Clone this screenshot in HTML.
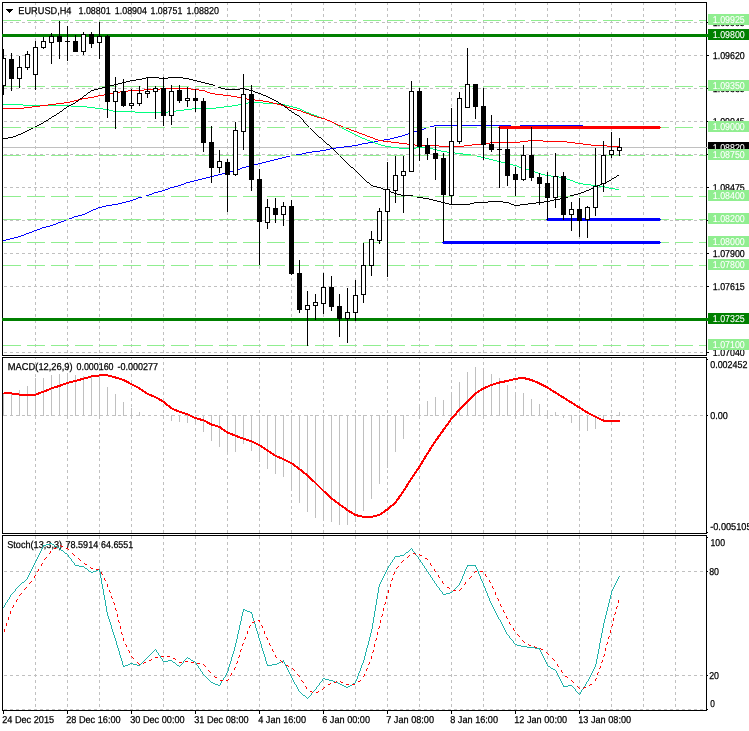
<!DOCTYPE html>
<html lang="en">
<head>
<meta charset="utf-8">
<title>EURUSD,H4</title>
<style>
html,body{margin:0;padding:0;background:#fff;}
body{width:749px;height:731px;overflow:hidden;font-family:"Liberation Sans",Arial,sans-serif;}
svg{display:block;}
</style>
</head>
<body>
<svg width="749" height="731" viewBox="0 0 749 731" shape-rendering="crispEdges" font-family="'Liberation Sans', Arial, sans-serif" font-size="10">
<rect x="0" y="0" width="749" height="731" fill="#fff"/>
<g id="grid">
<line x1="35.5" y1="2" x2="35.5" y2="710" stroke="#c0c0c0" stroke-dasharray="3 3"/>
<line x1="67.5" y1="2" x2="67.5" y2="710" stroke="#c0c0c0" stroke-dasharray="3 3"/>
<line x1="99.5" y1="2" x2="99.5" y2="710" stroke="#c0c0c0" stroke-dasharray="3 3"/>
<line x1="131.5" y1="2" x2="131.5" y2="710" stroke="#c0c0c0" stroke-dasharray="3 3"/>
<line x1="163.5" y1="2" x2="163.5" y2="710" stroke="#c0c0c0" stroke-dasharray="3 3"/>
<line x1="195.5" y1="2" x2="195.5" y2="710" stroke="#c0c0c0" stroke-dasharray="3 3"/>
<line x1="227.5" y1="2" x2="227.5" y2="710" stroke="#c0c0c0" stroke-dasharray="3 3"/>
<line x1="259.5" y1="2" x2="259.5" y2="710" stroke="#c0c0c0" stroke-dasharray="3 3"/>
<line x1="291.5" y1="2" x2="291.5" y2="710" stroke="#c0c0c0" stroke-dasharray="3 3"/>
<line x1="323.5" y1="2" x2="323.5" y2="710" stroke="#c0c0c0" stroke-dasharray="3 3"/>
<line x1="355.5" y1="2" x2="355.5" y2="710" stroke="#c0c0c0" stroke-dasharray="3 3"/>
<line x1="387.5" y1="2" x2="387.5" y2="710" stroke="#c0c0c0" stroke-dasharray="3 3"/>
<line x1="419.5" y1="2" x2="419.5" y2="710" stroke="#c0c0c0" stroke-dasharray="3 3"/>
<line x1="451.5" y1="2" x2="451.5" y2="710" stroke="#c0c0c0" stroke-dasharray="3 3"/>
<line x1="483.5" y1="2" x2="483.5" y2="710" stroke="#c0c0c0" stroke-dasharray="3 3"/>
<line x1="515.5" y1="2" x2="515.5" y2="710" stroke="#c0c0c0" stroke-dasharray="3 3"/>
<line x1="547.5" y1="2" x2="547.5" y2="710" stroke="#c0c0c0" stroke-dasharray="3 3"/>
<line x1="579.5" y1="2" x2="579.5" y2="710" stroke="#c0c0c0" stroke-dasharray="3 3"/>
<line x1="611.5" y1="2" x2="611.5" y2="710" stroke="#c0c0c0" stroke-dasharray="3 3"/>
<line x1="643.5" y1="2" x2="643.5" y2="710" stroke="#c0c0c0" stroke-dasharray="3 3"/>
<line x1="675.5" y1="2" x2="675.5" y2="710" stroke="#c0c0c0" stroke-dasharray="3 3"/>
<rect x="0" y="356" width="749" height="1" fill="#fff"/>
<rect x="0" y="534" width="749" height="1" fill="#fff"/>
<line x1="4" y1="22.5" x2="706" y2="22.5" stroke="#c0c0c0" stroke-dasharray="3 3"/>
<line x1="4" y1="55.5" x2="706" y2="55.5" stroke="#c0c0c0" stroke-dasharray="3 3"/>
<line x1="4" y1="88.5" x2="706" y2="88.5" stroke="#c0c0c0" stroke-dasharray="3 3"/>
<line x1="4" y1="121.5" x2="706" y2="121.5" stroke="#c0c0c0" stroke-dasharray="3 3"/>
<line x1="4" y1="154.5" x2="706" y2="154.5" stroke="#c0c0c0" stroke-dasharray="3 3"/>
<line x1="4" y1="187.5" x2="706" y2="187.5" stroke="#c0c0c0" stroke-dasharray="3 3"/>
<line x1="4" y1="220.5" x2="706" y2="220.5" stroke="#c0c0c0" stroke-dasharray="3 3"/>
<line x1="4" y1="253.5" x2="706" y2="253.5" stroke="#c0c0c0" stroke-dasharray="3 3"/>
<line x1="4" y1="286.5" x2="706" y2="286.5" stroke="#c0c0c0" stroke-dasharray="3 3"/>
<line x1="4" y1="319.5" x2="706" y2="319.5" stroke="#c0c0c0" stroke-dasharray="3 3"/>
<line x1="4" y1="352.5" x2="706" y2="352.5" stroke="#c0c0c0" stroke-dasharray="3 3"/>
<line x1="4" y1="415.5" x2="706" y2="415.5" stroke="#c0c0c0" stroke-dasharray="3 3"/>
<line x1="4" y1="571.5" x2="706" y2="571.5" stroke="#c0c0c0" stroke-dasharray="3 3"/>
<line x1="4" y1="675.5" x2="706" y2="675.5" stroke="#c0c0c0" stroke-dasharray="3 3"/>
<line x1="4" y1="709.5" x2="706" y2="709.5" stroke="#c0c0c0" stroke-dasharray="3 3"/>
</g>
<g id="titles" shape-rendering="auto" text-rendering="geometricPrecision">
<path d="M6 9h7l-3.5 4z" fill="#000" shape-rendering="crispEdges"/>
<text transform="translate(18.30,14) scale(0.9204,1)" font-size="10.0" fill="#000" stroke="#000" stroke-width="0.25">EURUSD,H4</text>
<text transform="translate(78.50,14) scale(0.8880,1)" font-size="10.0" fill="#000" stroke="#000" stroke-width="0.25">1.08801</text>
<text transform="translate(114.80,14) scale(0.8880,1)" font-size="10.0" fill="#000" stroke="#000" stroke-width="0.25">1.08904</text>
<text transform="translate(150.50,14) scale(0.8797,1)" font-size="10.0" fill="#000" stroke="#000" stroke-width="0.25">1.08751</text>
<text transform="translate(186.60,14) scale(0.8963,1)" font-size="10.0" fill="#000" stroke="#000" stroke-width="0.25">1.08820</text>
<text transform="translate(7.80,370) scale(0.9330,1)" font-size="10.0" fill="#000" stroke="#000" stroke-width="0.25">MACD(12,26,9)</text>
<text transform="translate(76.50,370) scale(0.8873,1)" font-size="10.0" fill="#000" stroke="#000" stroke-width="0.25">0.000160</text>
<text transform="translate(117.50,370) scale(0.9012,1)" font-size="10.0" fill="#000" stroke="#000" stroke-width="0.25">-0.000277</text>
<text transform="translate(7.20,548) scale(0.9142,1)" font-size="10.0" fill="#000" stroke="#000" stroke-width="0.25">Stoch(13,3,3)</text>
<text transform="translate(65.50,548) scale(0.9046,1)" font-size="10.0" fill="#000" stroke="#000" stroke-width="0.25">78.5914</text>
<text transform="translate(101.10,548) scale(0.8852,1)" font-size="10.0" fill="#000" stroke="#000" stroke-width="0.25">64.6551</text>
</g>
<g id="ma">
<rect x="3" y="147" width="703" height="1" fill="#c0c0c0"/>
<path d="M3 240.5h3M6 239.5h4M10 238.5h4M14 237.5h4M18 236.5h3M21 235.5h3M24 234.5h2M26 233.5h3M29 232.5h3M32 231.5h2M34 230.5h3M37 229.5h3M40 228.5h2M42 227.5h4M46 226.5h4M50 225.5h3M53 224.5h3M56 223.5h2M58 222.5h3M61 221.5h3M64 220.5h2M66 219.5h3M69 218.5h3M72 217.5h2M74 216.5h4M78 215.5h4M82 214.5h3M85 213.5h2M87 212.5h2M89 211.5h2M91 210.5h2M93 209.5h3M96 208.5h2M98 207.5h4M102 206.5h4M106 205.5h6M112 204.5h6M118 203.5h4M122 202.5h4M126 201.5h4M130 200.5h3M133 199.5h3M136 198.5h2M138 197.5h4M142 196.5h4M146 195.5h3M149 194.5h3M152 193.5h2M154 192.5h4M158 191.5h4M162 190.5h3M165 189.5h3M168 188.5h2M170 187.5h4M174 186.5h4M178 185.5h3M181 184.5h3M184 183.5h2M186 182.5h4M190 181.5h4M194 180.5h4M198 179.5h4M202 178.5h4M206 177.5h4M210 176.5h4M214 175.5h4M218 174.5h4M222 173.5h4M226 172.5h4M230 171.5h4M234 170.5h3M237 169.5h3M240 168.5h2M242 167.5h4M246 166.5h4M250 165.5h4M254 164.5h4M258 163.5h4M262 162.5h4M266 161.5h4M270 160.5h4M274 159.5h4M278 158.5h4M282 157.5h4M286 156.5h4M290 155.5h6M296 154.5h6M302 153.5h4M306 152.5h6M312 151.5h8M320 150.5h6M326 149.5h4M330 148.5h6M336 147.5h8M344 146.5h8M352 145.5h6M358 144.5h4M362 143.5h6M368 142.5h6M374 141.5h4M378 140.5h6M384 139.5h6M390 138.5h4M394 137.5h4M398 136.5h4M402 135.5h3M405 134.5h3M408 133.5h2M410 132.5h4M414 131.5h4M418 130.5h3M421 129.5h3M424 128.5h2M426 127.5h4M430 126.5h4M434 125.5h77M511 126.5h9M520 125.5h63M583 126.5h24M607 127.5h12" fill="none" stroke="#0000ff" stroke-width="1"/>
<path d="M3 104.5h20M23 105.5h48M71 106.5h16M87 107.5h8M95 108.5h8M103 109.5h6M109 110.5h4M113 111.5h22M135 112.5h33M168 111.5h8M176 110.5h8M184 109.5h8M192 108.5h24M216 107.5h8M224 106.5h8M232 105.5h6M238 104.5h4M242 103.5h6M248 102.5h15M263 103.5h16M279 104.5h6M285 105.5h4M289 106.5h4M293 107.5h4M297 108.5h3M300 109.5h2M302 110.5h2M304 111.5h2M306 112.5h3M309 113.5h2M311 114.5h3M314 115.5h3M317 116.5h2M319 117.5h3M322 118.5h3M325 119.5h2M327 120.5h3M330 121.5h2M332 122.5h2M334 123.5h1M335 124.5h2M337 125.5h2M339 126.5h1M340 127.5h2M342 128.5h2M344 129.5h2M346 130.5h2M348 131.5h2M350 132.5h2M352 133.5h2M354 134.5h2M356 135.5h2M358 136.5h2M360 137.5h2M362 138.5h3M365 139.5h2M367 140.5h3M370 141.5h3M373 142.5h2M375 143.5h3M378 144.5h3M381 145.5h4M385 146.5h6M391 147.5h8M399 148.5h17M416 147.5h13M429 148.5h4M433 149.5h4M437 150.5h4M441 151.5h6M447 152.5h8M455 153.5h8M463 154.5h8M471 155.5h6M477 156.5h4M481 157.5h4M485 158.5h4M489 159.5h4M493 160.5h4M497 161.5h4M501 162.5h4M505 163.5h4M509 164.5h4M513 165.5h4M517 166.5h2M519 167.5h3M522 168.5h3M525 169.5h4M529 170.5h4M533 171.5h2M535 172.5h3M538 173.5h3M541 174.5h4M545 175.5h6M551 176.5h8M559 177.5h6M565 178.5h2M567 179.5h3M570 180.5h3M573 181.5h2M575 182.5h3M578 183.5h5M583 184.5h8M591 185.5h8M599 186.5h6M605 187.5h4M609 188.5h6M615 189.5h4" fill="none" stroke="#00ff7f" stroke-width="1"/>
<path d="M3 108.5h21M24 107.5h8M32 106.5h8M40 105.5h8M48 104.5h8M56 103.5h8M64 102.5h6M70 101.5h4M74 100.5h4M78 99.5h4M82 98.5h6M88 97.5h6M94 96.5h4M98 95.5h6M104 94.5h6M110 93.5h4M114 92.5h6M120 91.5h8M128 90.5h16M144 89.5h16M160 88.5h31M191 89.5h8M199 90.5h6M205 91.5h2M207 92.5h3M210 93.5h5M215 94.5h8M223 95.5h8M231 96.5h6M237 97.5h4M241 98.5h6M247 99.5h8M255 100.5h8M263 101.5h6M269 102.5h4M273 103.5h4M277 104.5h4M281 105.5h4M285 106.5h2M287 107.5h3M290 108.5h3M293 109.5h4M297 110.5h4M301 111.5h2M303 112.5h3M306 113.5h3M309 114.5h2M311 115.5h3M314 116.5h3M317 117.5h4M321 118.5h4M325 119.5h2M327 120.5h3M330 121.5h2M332 122.5h2M334 123.5h2M336 124.5h2M338 125.5h3M341 126.5h2M343 127.5h3M346 128.5h3M349 129.5h2M351 130.5h3M354 131.5h3M357 132.5h2M359 133.5h3M362 134.5h3M365 135.5h2M367 136.5h3M370 137.5h3M373 138.5h2M375 139.5h3M378 140.5h5M383 141.5h8M391 142.5h8M399 143.5h8M407 144.5h8M415 145.5h24M439 146.5h25M464 145.5h8M472 144.5h14M486 143.5h4M490 142.5h30M520 141.5h8M528 140.5h15M543 141.5h24M567 142.5h8M575 143.5h8M583 144.5h8M591 145.5h16M607 146.5h12" fill="none" stroke="#ff0000" stroke-width="1"/>
<path d="M3 138.5h5M8 137.5h5M13 136.5h3M16 135.5h2M18 134.5h3M21 133.5h2M23 132.5h2M25 131.5h2M27 130.5h2M29 129.5h2M31 128.5h2M33 127.5h2M35 126.5h2M37 125.5h2M39 124.5h2M41 123.5h2M43 122.5h1M44 121.5h2M46 120.5h2M48 119.5h1M49 118.5h2M51 117.5h1M52 116.5h2M54 115.5h2M56 114.5h1M57 113.5h2M59 112.5h1M60 111.5h2M62 110.5h1M63 109.5h1M64 108.5h2M66 107.5h1M67 106.5h2M69 105.5h2M71 104.5h2M73 103.5h2M75 102.5h1M76 101.5h2M78 100.5h1M79 99.5h1M80 98.5h2M82 97.5h1M83 96.5h1M84 95.5h2M86 94.5h1M87 93.5h1M88 92.5h2M90 91.5h1M91 90.5h3M94 89.5h4M98 88.5h4M102 87.5h4M106 86.5h4M110 85.5h4M114 84.5h4M118 83.5h4M122 82.5h4M126 81.5h4M130 80.5h6M136 79.5h6M142 78.5h4M146 77.5h13M159 78.5h9M168 77.5h15M183 78.5h6M189 79.5h4M193 80.5h4M197 81.5h4M201 82.5h4M205 83.5h4M209 84.5h4M213 85.5h2M215 86.5h3M218 87.5h3M221 88.5h4M225 89.5h15M240 88.5h5M245 89.5h4M249 90.5h4M253 91.5h2M255 92.5h3M258 93.5h3M261 94.5h2M263 95.5h3M266 96.5h2M268 97.5h2M270 98.5h2M272 99.5h2M274 100.5h2M276 101.5h2M278 102.5h1M279 103.5h2M281 104.5h2M283 105.5h1M284 106.5h1M285 107.5h2M287 108.5h1M288 109.5h1M289 110.5h2M291 111.5h1M292 112.5h2M294 113.5h1M295 114.5h2M297 115.5h2M299 116.5h1M300 117.5h1M301 118.5h1M302 119.5h1M303.5 120v2M304 122.5h1M305 123.5h1M306 124.5h1M307 125.5h1M308 126.5h1M309 127.5h1M310 128.5h1M311 129.5h1M312 130.5h1M313 131.5h1M314 132.5h1M315 133.5h1M316 134.5h1M317 135.5h1M318 136.5h1M319 137.5h2M321 138.5h1M322 139.5h1M323 140.5h1M324 141.5h1M325 142.5h1M326 143.5h1M327 144.5h2M329 145.5h1M330 146.5h1M331 147.5h1M332 148.5h1M333 149.5h1M334 150.5h1M335 151.5h1M336 152.5h1M337 153.5h1M338 154.5h1M339 155.5h1M340 156.5h1M341 157.5h1M342 158.5h1M343 159.5h1M344 160.5h1M345 161.5h1M346 162.5h1M347 163.5h1M348 164.5h1M349 165.5h1M350 166.5h1M351 167.5h2M353 168.5h1M354 169.5h1M355 170.5h1M356 171.5h1M357 172.5h1M358 173.5h1M359 174.5h1M360 175.5h1M361 176.5h1M362 177.5h1M363 178.5h1M364 179.5h1M365 180.5h1M366 181.5h1M367 182.5h2M369 183.5h1M370 184.5h1M371 185.5h2M373 186.5h4M377 187.5h4M381 188.5h2M383 189.5h3M386 190.5h3M389 191.5h2M391 192.5h3M394 193.5h3M397 194.5h4M401 195.5h12M413 196.5h4M417 197.5h6M423 198.5h6M429 199.5h4M433 200.5h4M437 201.5h4M441 202.5h4M445 203.5h4M449 204.5h21M470 203.5h4M474 202.5h14M488 201.5h15M503 202.5h6M509 203.5h2M511 204.5h3M514 205.5h6M520 204.5h8M528 203.5h8M536 202.5h8M544 201.5h6M550 200.5h4M554 199.5h6M560 198.5h5M565 197.5h3M568 196.5h2M570 195.5h4M574 194.5h4M578 193.5h3M581 192.5h3M584 191.5h2M586 190.5h3M589 189.5h2M591 188.5h2M593 187.5h2M595 186.5h2M597 185.5h3M600 184.5h2M602 183.5h3M605 182.5h2M607 181.5h2M609 180.5h2M611 179.5h1M612 178.5h2M614 177.5h2M616 176.5h1M617 175.5h2" fill="none" stroke="#000000" stroke-width="1"/>
</g>
<g id="objects">
<rect x="3" y="20" width="703" height="1" fill="#fff"/>
<line x1="3" y1="20.5" x2="706" y2="20.5" stroke="#90ee90" stroke-dasharray="18 6"/>
<rect x="3" y="86" width="703" height="1" fill="#fff"/>
<line x1="3" y1="86.5" x2="706" y2="86.5" stroke="#90ee90" stroke-dasharray="18 6"/>
<rect x="3" y="127" width="703" height="1" fill="#fff"/>
<line x1="3" y1="127.5" x2="706" y2="127.5" stroke="#90ee90" stroke-dasharray="18 6"/>
<rect x="3" y="155" width="703" height="1" fill="#fff"/>
<line x1="3" y1="155.5" x2="706" y2="155.5" stroke="#90ee90" stroke-dasharray="18 6"/>
<rect x="3" y="196" width="703" height="1" fill="#fff"/>
<line x1="3" y1="196.5" x2="706" y2="196.5" stroke="#90ee90" stroke-dasharray="18 6"/>
<rect x="3" y="219" width="703" height="1" fill="#fff"/>
<line x1="3" y1="219.5" x2="706" y2="219.5" stroke="#90ee90" stroke-dasharray="18 6"/>
<rect x="3" y="242" width="703" height="1" fill="#fff"/>
<line x1="3" y1="242.5" x2="706" y2="242.5" stroke="#90ee90" stroke-dasharray="18 6"/>
<rect x="3" y="265" width="703" height="1" fill="#fff"/>
<line x1="3" y1="265.5" x2="706" y2="265.5" stroke="#90ee90" stroke-dasharray="18 6"/>
<rect x="3" y="345" width="703" height="1" fill="#fff"/>
<line x1="3" y1="345.5" x2="706" y2="345.5" stroke="#90ee90" stroke-dasharray="18 6"/>
<rect x="3" y="34" width="703" height="3" fill="#008000"/>
<rect x="3" y="318" width="703" height="3" fill="#008000"/>
<rect x="499" y="126" width="161" height="3" fill="#ff0000"/>
<rect x="498" y="127" width="163" height="1" fill="#ff0000"/>
<rect x="547" y="218" width="113" height="3" fill="#0000ff"/>
<rect x="546" y="219" width="115" height="1" fill="#0000ff"/>
<rect x="443" y="241" width="217" height="3" fill="#0000ff"/>
<rect x="442" y="242" width="219" height="1" fill="#0000ff"/>
</g>
<g id="candles">
<rect x="3" y="49" width="1" height="46" fill="#000"/>
<rect x="1" y="58" width="5" height="28" fill="#000"/>
<rect x="2" y="59" width="3" height="26" fill="#fff"/>
<rect x="11" y="53" width="1" height="38" fill="#000"/>
<rect x="9" y="59" width="5" height="20" fill="#000"/>
<rect x="19" y="56" width="1" height="32" fill="#000"/>
<rect x="17" y="67" width="5" height="12" fill="#000"/>
<rect x="18" y="68" width="3" height="10" fill="#fff"/>
<rect x="27" y="51" width="1" height="19" fill="#000"/>
<rect x="25" y="54" width="5" height="14" fill="#000"/>
<rect x="26" y="55" width="3" height="12" fill="#fff"/>
<rect x="35" y="41" width="1" height="49" fill="#000"/>
<rect x="33" y="47" width="5" height="28" fill="#000"/>
<rect x="34" y="48" width="3" height="26" fill="#fff"/>
<rect x="43" y="37" width="1" height="12" fill="#000"/>
<rect x="41" y="41" width="5" height="7" fill="#000"/>
<rect x="42" y="42" width="3" height="5" fill="#fff"/>
<rect x="51" y="33" width="1" height="31" fill="#000"/>
<rect x="49" y="36" width="5" height="7" fill="#000"/>
<rect x="50" y="37" width="3" height="5" fill="#fff"/>
<rect x="59" y="21" width="1" height="38" fill="#000"/>
<rect x="57" y="36" width="5" height="6" fill="#000"/>
<rect x="67" y="26" width="1" height="35" fill="#000"/>
<rect x="65" y="41" width="5" height="1" fill="#000"/>
<rect x="75" y="35" width="1" height="17" fill="#000"/>
<rect x="73" y="41" width="5" height="11" fill="#000"/>
<rect x="83" y="32" width="1" height="23" fill="#000"/>
<rect x="81" y="34" width="5" height="18" fill="#000"/>
<rect x="82" y="35" width="3" height="16" fill="#fff"/>
<rect x="91" y="32" width="1" height="16" fill="#000"/>
<rect x="89" y="34" width="5" height="10" fill="#000"/>
<rect x="99" y="22" width="1" height="37" fill="#000"/>
<rect x="97" y="36" width="5" height="7" fill="#000"/>
<rect x="98" y="37" width="3" height="5" fill="#fff"/>
<rect x="107" y="35" width="1" height="83" fill="#000"/>
<rect x="105" y="36" width="5" height="66" fill="#000"/>
<rect x="115" y="77" width="1" height="52" fill="#000"/>
<rect x="113" y="91" width="5" height="11" fill="#000"/>
<rect x="114" y="92" width="3" height="9" fill="#fff"/>
<rect x="123" y="79" width="1" height="28" fill="#000"/>
<rect x="121" y="91" width="5" height="15" fill="#000"/>
<rect x="131" y="89" width="1" height="20" fill="#000"/>
<rect x="129" y="103" width="5" height="3" fill="#000"/>
<rect x="130" y="104" width="3" height="1" fill="#fff"/>
<rect x="139" y="86" width="1" height="20" fill="#000"/>
<rect x="137" y="93" width="5" height="11" fill="#000"/>
<rect x="138" y="94" width="3" height="9" fill="#fff"/>
<rect x="147" y="77" width="1" height="21" fill="#000"/>
<rect x="145" y="91" width="5" height="3" fill="#000"/>
<rect x="146" y="92" width="3" height="1" fill="#fff"/>
<rect x="155" y="86" width="1" height="33" fill="#000"/>
<rect x="153" y="88" width="5" height="4" fill="#000"/>
<rect x="154" y="89" width="3" height="2" fill="#fff"/>
<rect x="163" y="77" width="1" height="49" fill="#000"/>
<rect x="161" y="88" width="5" height="28" fill="#000"/>
<rect x="171" y="85" width="1" height="40" fill="#000"/>
<rect x="169" y="91" width="5" height="25" fill="#000"/>
<rect x="170" y="92" width="3" height="23" fill="#fff"/>
<rect x="179" y="85" width="1" height="18" fill="#000"/>
<rect x="177" y="90" width="5" height="11" fill="#000"/>
<rect x="187" y="87" width="1" height="20" fill="#000"/>
<rect x="185" y="98" width="5" height="3" fill="#000"/>
<rect x="186" y="99" width="3" height="1" fill="#fff"/>
<rect x="195" y="89" width="1" height="23" fill="#000"/>
<rect x="193" y="98" width="5" height="3" fill="#000"/>
<rect x="203" y="98" width="1" height="54" fill="#000"/>
<rect x="201" y="101" width="5" height="42" fill="#000"/>
<rect x="211" y="126" width="1" height="57" fill="#000"/>
<rect x="209" y="142" width="5" height="26" fill="#000"/>
<rect x="219" y="150" width="1" height="23" fill="#000"/>
<rect x="217" y="161" width="5" height="7" fill="#000"/>
<rect x="218" y="162" width="3" height="5" fill="#fff"/>
<rect x="227" y="159" width="1" height="53" fill="#000"/>
<rect x="225" y="162" width="5" height="13" fill="#000"/>
<rect x="235" y="122" width="1" height="54" fill="#000"/>
<rect x="233" y="130" width="5" height="45" fill="#000"/>
<rect x="234" y="131" width="3" height="43" fill="#fff"/>
<rect x="243" y="74" width="1" height="76" fill="#000"/>
<rect x="241" y="94" width="5" height="38" fill="#000"/>
<rect x="242" y="95" width="3" height="36" fill="#fff"/>
<rect x="251" y="85" width="1" height="106" fill="#000"/>
<rect x="249" y="94" width="5" height="86" fill="#000"/>
<rect x="259" y="169" width="1" height="96" fill="#000"/>
<rect x="257" y="179" width="5" height="43" fill="#000"/>
<rect x="267" y="199" width="1" height="30" fill="#000"/>
<rect x="265" y="207" width="5" height="16" fill="#000"/>
<rect x="266" y="208" width="3" height="14" fill="#fff"/>
<rect x="275" y="198" width="1" height="25" fill="#000"/>
<rect x="273" y="208" width="5" height="7" fill="#000"/>
<rect x="283" y="202" width="1" height="24" fill="#000"/>
<rect x="281" y="206" width="5" height="9" fill="#000"/>
<rect x="282" y="207" width="3" height="7" fill="#fff"/>
<rect x="291" y="200" width="1" height="75" fill="#000"/>
<rect x="289" y="206" width="5" height="68" fill="#000"/>
<rect x="299" y="260" width="1" height="53" fill="#000"/>
<rect x="297" y="273" width="5" height="37" fill="#000"/>
<rect x="307" y="291" width="1" height="55" fill="#000"/>
<rect x="305" y="305" width="5" height="5" fill="#000"/>
<rect x="306" y="306" width="3" height="3" fill="#fff"/>
<rect x="315" y="294" width="1" height="26" fill="#000"/>
<rect x="313" y="302" width="5" height="4" fill="#000"/>
<rect x="314" y="303" width="3" height="2" fill="#fff"/>
<rect x="323" y="273" width="1" height="41" fill="#000"/>
<rect x="321" y="287" width="5" height="17" fill="#000"/>
<rect x="322" y="288" width="3" height="15" fill="#fff"/>
<rect x="331" y="276" width="1" height="35" fill="#000"/>
<rect x="329" y="287" width="5" height="20" fill="#000"/>
<rect x="339" y="294" width="1" height="43" fill="#000"/>
<rect x="337" y="306" width="5" height="13" fill="#000"/>
<rect x="347" y="288" width="1" height="55" fill="#000"/>
<rect x="345" y="312" width="5" height="7" fill="#000"/>
<rect x="346" y="313" width="3" height="5" fill="#fff"/>
<rect x="355" y="280" width="1" height="41" fill="#000"/>
<rect x="353" y="295" width="5" height="18" fill="#000"/>
<rect x="354" y="296" width="3" height="16" fill="#fff"/>
<rect x="363" y="243" width="1" height="60" fill="#000"/>
<rect x="361" y="265" width="5" height="30" fill="#000"/>
<rect x="362" y="266" width="3" height="28" fill="#fff"/>
<rect x="371" y="231" width="1" height="45" fill="#000"/>
<rect x="369" y="239" width="5" height="27" fill="#000"/>
<rect x="370" y="240" width="3" height="25" fill="#fff"/>
<rect x="379" y="208" width="1" height="36" fill="#000"/>
<rect x="377" y="211" width="5" height="30" fill="#000"/>
<rect x="378" y="212" width="3" height="28" fill="#fff"/>
<rect x="387" y="162" width="1" height="115" fill="#000"/>
<rect x="385" y="189" width="5" height="23" fill="#000"/>
<rect x="386" y="190" width="3" height="21" fill="#fff"/>
<rect x="395" y="156" width="1" height="47" fill="#000"/>
<rect x="393" y="175" width="5" height="16" fill="#000"/>
<rect x="394" y="176" width="3" height="14" fill="#fff"/>
<rect x="403" y="156" width="1" height="57" fill="#000"/>
<rect x="401" y="171" width="5" height="5" fill="#000"/>
<rect x="402" y="172" width="3" height="3" fill="#fff"/>
<rect x="411" y="81" width="1" height="91" fill="#000"/>
<rect x="409" y="91" width="5" height="81" fill="#000"/>
<rect x="410" y="92" width="3" height="79" fill="#fff"/>
<rect x="419" y="88" width="1" height="73" fill="#000"/>
<rect x="417" y="91" width="5" height="56" fill="#000"/>
<rect x="427" y="138" width="1" height="22" fill="#000"/>
<rect x="425" y="145" width="5" height="9" fill="#000"/>
<rect x="435" y="127" width="1" height="53" fill="#000"/>
<rect x="433" y="153" width="5" height="6" fill="#000"/>
<rect x="443" y="153" width="1" height="89" fill="#000"/>
<rect x="441" y="158" width="5" height="37" fill="#000"/>
<rect x="451" y="108" width="1" height="96" fill="#000"/>
<rect x="449" y="141" width="5" height="55" fill="#000"/>
<rect x="450" y="142" width="3" height="53" fill="#fff"/>
<rect x="459" y="92" width="1" height="52" fill="#000"/>
<rect x="457" y="98" width="5" height="44" fill="#000"/>
<rect x="458" y="99" width="3" height="42" fill="#fff"/>
<rect x="467" y="48" width="1" height="60" fill="#000"/>
<rect x="465" y="84" width="5" height="24" fill="#000"/>
<rect x="466" y="85" width="3" height="22" fill="#fff"/>
<rect x="475" y="84" width="1" height="35" fill="#000"/>
<rect x="473" y="84" width="5" height="23" fill="#000"/>
<rect x="483" y="88" width="1" height="72" fill="#000"/>
<rect x="481" y="106" width="5" height="39" fill="#000"/>
<rect x="491" y="115" width="1" height="37" fill="#000"/>
<rect x="489" y="144" width="5" height="6" fill="#000"/>
<rect x="499" y="127" width="1" height="61" fill="#000"/>
<rect x="497" y="149" width="5" height="1" fill="#000"/>
<rect x="507" y="129" width="1" height="57" fill="#000"/>
<rect x="505" y="149" width="5" height="27" fill="#000"/>
<rect x="515" y="167" width="1" height="29" fill="#000"/>
<rect x="513" y="174" width="5" height="6" fill="#000"/>
<rect x="523" y="145" width="1" height="36" fill="#000"/>
<rect x="521" y="155" width="5" height="25" fill="#000"/>
<rect x="522" y="156" width="3" height="23" fill="#fff"/>
<rect x="531" y="127" width="1" height="54" fill="#000"/>
<rect x="529" y="155" width="5" height="23" fill="#000"/>
<rect x="539" y="173" width="1" height="32" fill="#000"/>
<rect x="537" y="177" width="5" height="7" fill="#000"/>
<rect x="547" y="172" width="1" height="48" fill="#000"/>
<rect x="545" y="183" width="5" height="15" fill="#000"/>
<rect x="555" y="153" width="1" height="55" fill="#000"/>
<rect x="553" y="176" width="5" height="22" fill="#000"/>
<rect x="554" y="177" width="3" height="20" fill="#fff"/>
<rect x="563" y="172" width="1" height="48" fill="#000"/>
<rect x="561" y="176" width="5" height="39" fill="#000"/>
<rect x="571" y="202" width="1" height="29" fill="#000"/>
<rect x="569" y="209" width="5" height="6" fill="#000"/>
<rect x="570" y="210" width="3" height="4" fill="#fff"/>
<rect x="579" y="198" width="1" height="39" fill="#000"/>
<rect x="577" y="209" width="5" height="12" fill="#000"/>
<rect x="587" y="206" width="1" height="32" fill="#000"/>
<rect x="585" y="207" width="5" height="13" fill="#000"/>
<rect x="586" y="208" width="3" height="11" fill="#fff"/>
<rect x="595" y="148" width="1" height="68" fill="#000"/>
<rect x="593" y="186" width="5" height="22" fill="#000"/>
<rect x="594" y="187" width="3" height="20" fill="#fff"/>
<rect x="603" y="141" width="1" height="51" fill="#000"/>
<rect x="601" y="155" width="5" height="29" fill="#000"/>
<rect x="602" y="156" width="3" height="27" fill="#fff"/>
<rect x="611" y="132" width="1" height="26" fill="#000"/>
<rect x="609" y="150" width="5" height="5" fill="#000"/>
<rect x="610" y="151" width="3" height="3" fill="#fff"/>
<rect x="619" y="138" width="1" height="18" fill="#000"/>
<rect x="617" y="147" width="5" height="4" fill="#000"/>
<rect x="618" y="148" width="3" height="2" fill="#fff"/>
</g>
<g id="macd">
<rect x="3" y="393" width="1" height="23" fill="#c0c0c0"/>
<rect x="11" y="393" width="1" height="23" fill="#c0c0c0"/>
<rect x="19" y="390" width="1" height="26" fill="#c0c0c0"/>
<rect x="27" y="386" width="1" height="30" fill="#c0c0c0"/>
<rect x="35" y="378" width="1" height="38" fill="#c0c0c0"/>
<rect x="43" y="378" width="1" height="38" fill="#c0c0c0"/>
<rect x="51" y="375" width="1" height="41" fill="#c0c0c0"/>
<rect x="59" y="374" width="1" height="42" fill="#c0c0c0"/>
<rect x="67" y="373" width="1" height="43" fill="#c0c0c0"/>
<rect x="75" y="375" width="1" height="41" fill="#c0c0c0"/>
<rect x="83" y="376" width="1" height="40" fill="#c0c0c0"/>
<rect x="91" y="376" width="1" height="40" fill="#c0c0c0"/>
<rect x="99" y="377" width="1" height="39" fill="#c0c0c0"/>
<rect x="107" y="387" width="1" height="29" fill="#c0c0c0"/>
<rect x="115" y="394" width="1" height="22" fill="#c0c0c0"/>
<rect x="123" y="402" width="1" height="14" fill="#c0c0c0"/>
<rect x="131" y="408" width="1" height="8" fill="#c0c0c0"/>
<rect x="139" y="412" width="1" height="4" fill="#c0c0c0"/>
<rect x="163" y="415" width="1" height="2" fill="#c0c0c0"/>
<rect x="171" y="415" width="1" height="6" fill="#c0c0c0"/>
<rect x="179" y="415" width="1" height="7" fill="#c0c0c0"/>
<rect x="187" y="415" width="1" height="8" fill="#c0c0c0"/>
<rect x="195" y="415" width="1" height="10" fill="#c0c0c0"/>
<rect x="203" y="415" width="1" height="17" fill="#c0c0c0"/>
<rect x="211" y="415" width="1" height="26" fill="#c0c0c0"/>
<rect x="219" y="415" width="1" height="32" fill="#c0c0c0"/>
<rect x="227" y="415" width="1" height="40" fill="#c0c0c0"/>
<rect x="235" y="415" width="1" height="37" fill="#c0c0c0"/>
<rect x="243" y="415" width="1" height="29" fill="#c0c0c0"/>
<rect x="251" y="415" width="1" height="36" fill="#c0c0c0"/>
<rect x="259" y="415" width="1" height="47" fill="#c0c0c0"/>
<rect x="267" y="415" width="1" height="54" fill="#c0c0c0"/>
<rect x="275" y="415" width="1" height="59" fill="#c0c0c0"/>
<rect x="283" y="415" width="1" height="62" fill="#c0c0c0"/>
<rect x="291" y="415" width="1" height="75" fill="#c0c0c0"/>
<rect x="299" y="415" width="1" height="88" fill="#c0c0c0"/>
<rect x="307" y="415" width="1" height="97" fill="#c0c0c0"/>
<rect x="315" y="415" width="1" height="103" fill="#c0c0c0"/>
<rect x="323" y="415" width="1" height="105" fill="#c0c0c0"/>
<rect x="331" y="415" width="1" height="107" fill="#c0c0c0"/>
<rect x="339" y="415" width="1" height="110" fill="#c0c0c0"/>
<rect x="347" y="415" width="1" height="110" fill="#c0c0c0"/>
<rect x="355" y="415" width="1" height="107" fill="#c0c0c0"/>
<rect x="363" y="415" width="1" height="96" fill="#c0c0c0"/>
<rect x="371" y="415" width="1" height="84" fill="#c0c0c0"/>
<rect x="379" y="415" width="1" height="69" fill="#c0c0c0"/>
<rect x="387" y="415" width="1" height="53" fill="#c0c0c0"/>
<rect x="395" y="415" width="1" height="37" fill="#c0c0c0"/>
<rect x="403" y="415" width="1" height="24" fill="#c0c0c0"/>
<rect x="419" y="404" width="1" height="12" fill="#c0c0c0"/>
<rect x="427" y="401" width="1" height="15" fill="#c0c0c0"/>
<rect x="435" y="397" width="1" height="19" fill="#c0c0c0"/>
<rect x="443" y="400" width="1" height="16" fill="#c0c0c0"/>
<rect x="451" y="393" width="1" height="23" fill="#c0c0c0"/>
<rect x="459" y="382" width="1" height="34" fill="#c0c0c0"/>
<rect x="467" y="372" width="1" height="44" fill="#c0c0c0"/>
<rect x="475" y="367" width="1" height="49" fill="#c0c0c0"/>
<rect x="483" y="368" width="1" height="48" fill="#c0c0c0"/>
<rect x="491" y="374" width="1" height="42" fill="#c0c0c0"/>
<rect x="499" y="378" width="1" height="38" fill="#c0c0c0"/>
<rect x="507" y="385" width="1" height="31" fill="#c0c0c0"/>
<rect x="515" y="392" width="1" height="24" fill="#c0c0c0"/>
<rect x="523" y="393" width="1" height="23" fill="#c0c0c0"/>
<rect x="531" y="399" width="1" height="17" fill="#c0c0c0"/>
<rect x="539" y="404" width="1" height="12" fill="#c0c0c0"/>
<rect x="547" y="411" width="1" height="5" fill="#c0c0c0"/>
<rect x="555" y="412" width="1" height="4" fill="#c0c0c0"/>
<rect x="563" y="415" width="1" height="3" fill="#c0c0c0"/>
<rect x="571" y="415" width="1" height="8" fill="#c0c0c0"/>
<rect x="579" y="415" width="1" height="16" fill="#c0c0c0"/>
<rect x="587" y="415" width="1" height="16" fill="#c0c0c0"/>
<rect x="595" y="415" width="1" height="14" fill="#c0c0c0"/>
<rect x="603" y="415" width="1" height="6" fill="#c0c0c0"/>
<rect x="611" y="415" width="1" height="2" fill="#c0c0c0"/>
<rect x="619" y="412" width="1" height="4" fill="#c0c0c0"/>
<polyline points="3.5,393.1 11.5,393.4 19.5,394.6 27.5,394.7 35.5,394.6 43.5,391.7 51.5,388.4 59.5,385.9 67.5,382.9 75.5,380.9 83.5,378.7 91.5,376.4 99.5,375.4 107.5,375.4 115.5,377.5 123.5,380.0 131.5,384.2 139.5,388.4 147.5,393.8 155.5,397.2 163.5,401.7 171.5,408.4 179.5,411.8 187.5,414.3 195.5,418.1 203.5,420.3 211.5,424.5 219.5,427.0 227.5,432.6 235.5,435.7 243.5,438.7 251.5,441.4 259.5,445.1 267.5,450.4 275.5,455.9 283.5,459.2 291.5,463.2 299.5,469.0 307.5,475.5 315.5,483.0 323.5,491.0 331.5,498.4 339.5,504.3 347.5,510.1 355.5,515.1 363.5,516.8 371.5,516.8 379.5,514.8 387.5,509.3 395.5,502.6 403.5,491.0 411.5,478.5 419.5,466.8 427.5,453.4 435.5,441.0 443.5,429.8 451.5,418.8 459.5,409.6 467.5,401.1 475.5,393.4 483.5,388.4 491.5,385.0 499.5,382.5 507.5,380.9 515.5,378.8 523.5,378.0 531.5,380.0 539.5,383.4 547.5,387.6 555.5,392.6 563.5,397.6 571.5,402.6 579.5,407.6 587.5,412.6 595.5,416.8 603.5,420.6 611.5,420.9 619.5,420.9" fill="none" stroke="#ff0000" stroke-width="2"/>
</g>
<g id="stoch">
<path d="M3 607.5h1M4.5 605v2M5.5 603v2M6 602.5h1M7.5 600v2M8 599.5h1M9.5 597v2M10.5 595v2M11 594.5h1M12 593.5h1M13 592.5h1M14 591.5h1M15.5 589v2M16 588.5h1M17 587.5h1M18 586.5h1M19 585.5h1M20 584.5h1M21 583.5h1M22 582.5h2M24 581.5h1M25 580.5h1M26 579.5h1M27.5 577v2M28.5 575v2M29.5 573v2M30.5 571v2M31.5 569v2M32.5 567v2M33.5 565v2M34.5 563v2M35.5 561v2M36.5 559v2M37.5 557v2M38.5 555v2M39.5 553v2M40.5 551v2M41.5 549v2M42.5 547v2M43.5 545v2M44 545.5h2M46 544.5h4M50 543.5h2M52 544.5h2M54 545.5h1M55 546.5h2M57 547.5h2M59 548.5h1M60 549.5h1M61 550.5h2M63 551.5h1M64 552.5h1M65 553.5h2M67 554.5h1M68.5 555v2M69 557.5h1M70 558.5h1M71.5 559v2M72 561.5h1M73 562.5h1M74.5 563v2M75 565.5h4M79 566.5h5M84 567.5h1M85 568.5h2M87 569.5h1M88 570.5h1M89 571.5h2M91 572.5h2M93 571.5h3M96 570.5h2M98 569.5h2M99.5 570v2M100.5 572v6M101.5 578v6M102.5 584v5M103.5 589v6M104.5 595v5M105.5 600v6M106.5 606v6M107.5 612v4M108.5 616v3M109.5 619v3M110.5 622v3M111.5 625v4M112.5 629v3M113.5 632v3M114.5 635v3M115.5 638v3M116.5 641v4M117.5 645v3M118.5 648v3M119.5 651v4M120.5 655v3M121.5 658v3M122.5 661v4M123.5 665v2M124 666.5h1M125 665.5h3M128 664.5h2M130 663.5h3M133 664.5h4M137 665.5h3M140 664.5h1M141 663.5h1M142 662.5h1M143 661.5h1M144 660.5h1M145 659.5h1M146 658.5h1M147 657.5h1M148 656.5h1M149 655.5h1M150 654.5h1M151 653.5h1M152 652.5h1M153 651.5h1M154 650.5h1M155 649.5h1M156.5 650v2M157 652.5h1M158.5 653v2M159 655.5h1M160.5 656v2M161 658.5h1M162.5 659v2M163 661.5h5M168 660.5h4M172 661.5h1M173 662.5h2M175 663.5h1M176 664.5h1M177 665.5h2M179 666.5h1M180 665.5h1M181 664.5h1M182 663.5h1M183.5 661v2M184 660.5h1M185 659.5h1M186 658.5h1M187 657.5h1M188 658.5h2M190 659.5h1M191 660.5h2M193 661.5h2M195 662.5h1M196.5 663v2M197 665.5h1M198.5 666v2M199 668.5h1M200.5 669v2M201 671.5h1M202.5 672v2M203 674.5h1M204 675.5h1M205 676.5h1M206 677.5h1M207 678.5h1M208 679.5h1M209 680.5h1M210 681.5h1M211 682.5h2M213 683.5h2M215 684.5h3M218 685.5h2M220.5 683v2M221.5 681v2M222 680.5h1M223.5 678v2M224 677.5h1M225.5 675v2M226.5 673v2M227.5 671v2M228.5 667v4M229.5 664v3M230.5 661v3M231.5 657v4M232.5 654v3M233.5 651v3M234.5 647v4M235.5 643v4M236.5 639v4M237.5 634v5M238.5 630v4M239.5 625v5M240.5 621v4M241.5 616v5M242.5 612v4M243.5 609v3M244 609.5h1M245 610.5h2M247 611.5h3M250 612.5h2M251 613.5h1M252.5 614v4M253.5 618v3M254.5 621v3M255.5 624v4M256.5 628v3M257.5 631v3M258.5 634v4M259.5 638v3M260.5 641v3M261.5 644v4M262.5 648v3M263.5 651v3M264.5 654v3M265.5 657v4M266.5 661v3M267.5 664v2M268 665.5h4M272 664.5h5M277 663.5h2M279 662.5h2M281 661.5h2M283.5 660v2M284.5 662v2M285.5 664v2M286.5 666v2M287.5 668v2M288.5 670v2M289.5 672v2M290.5 674v2M291.5 676v2M292.5 678v2M293.5 680v2M294.5 682v2M295 684.5h1M296.5 685v2M297.5 687v2M298.5 689v2M299 691.5h1M300 692.5h1M301 693.5h1M302 694.5h1M303 695.5h2M305 696.5h1M306 697.5h1M307 698.5h1M308 697.5h1M309 696.5h1M310 695.5h1M311.5 693v2M312 692.5h1M313 691.5h1M314 690.5h1M315 689.5h1M316.5 687v2M317 686.5h1M318 685.5h1M319.5 683v2M320 682.5h1M321 681.5h1M322.5 679v2M323 678.5h2M325 679.5h4M329 680.5h4M333 681.5h2M335 682.5h3M338 683.5h2M340 684.5h2M342 685.5h2M344 686.5h2M346 687.5h2M348 686.5h2M350 685.5h2M352 684.5h1M353 683.5h2M355.5 681v2M356.5 679v2M357.5 676v3M358.5 673v3M359.5 671v2M360.5 668v3M361.5 665v3M362.5 663v2M363.5 660v3M364.5 656v4M365.5 652v4M366.5 648v4M367.5 645v3M368.5 641v4M369.5 637v4M370.5 633v4M371.5 629v4M372.5 623v6M373.5 617v6M374.5 611v6M375.5 605v6M376.5 599v6M377.5 593v6M378.5 587v6M379.5 584v3M380.5 582v2M381.5 580v2M382.5 578v2M383.5 576v2M384.5 574v2M385.5 572v2M386.5 570v2M387.5 568v2M388.5 566v2M389 565.5h1M390.5 563v2M391 562.5h1M392.5 560v2M393 559.5h1M394.5 557v2M395 556.5h5M400 555.5h4M404 554.5h1M405 553.5h1M406 552.5h2M408 551.5h1M409 550.5h1M410 549.5h1M411 548.5h1M412.5 549v2M413 551.5h1M414 552.5h1M415.5 553v2M416 555.5h1M417 556.5h1M418.5 557v2M419 559.5h1M420.5 560v2M421 562.5h1M422.5 563v2M423 565.5h1M424.5 566v2M425 568.5h1M426.5 569v2M427 571.5h1M428.5 572v2M429 574.5h1M430.5 575v2M431 577.5h1M432.5 578v2M433 580.5h1M434.5 581v2M435 583.5h1M436.5 584v2M437 586.5h1M438 587.5h1M439.5 588v2M440 590.5h1M441 591.5h1M442.5 592v2M443 594.5h3M446 593.5h4M450 592.5h2M452 591.5h1M453 590.5h1M454 589.5h1M455 588.5h1M456 587.5h1M457 586.5h1M458 585.5h1M459.5 583v2M460.5 581v2M461.5 579v2M462.5 576v3M463.5 574v2M464.5 571v3M465.5 569v2M466.5 567v2M467.5 565v2M468 565.5h8M475 566.5h1M476.5 567v2M477.5 569v2M478.5 571v3M479.5 574v2M480.5 576v3M481.5 579v2M482.5 581v2M483.5 583v3M484.5 586v2M485.5 588v3M486.5 591v2M487.5 593v3M488.5 596v2M489.5 598v3M490.5 601v2M491.5 603v2M492.5 605v2M493.5 607v2M494.5 609v2M495.5 611v2M496.5 613v2M497.5 615v2M498.5 617v2M499 619.5h1M500.5 620v2M501.5 622v2M502.5 624v2M503.5 626v2M504.5 628v2M505.5 630v2M506.5 632v2M507 634.5h1M508 635.5h1M509.5 636v2M510 638.5h1M511 639.5h1M512 640.5h1M513.5 641v2M514 643.5h1M515 644.5h2M517 645.5h4M521 646.5h6M527 647.5h8M535 648.5h5M539 649.5h1M540.5 650v2M541.5 652v2M542.5 654v2M543.5 656v2M544.5 658v2M545.5 660v2M546.5 662v2M547.5 664v2M548 666.5h2M550 667.5h1M551 668.5h2M553 669.5h2M555 670.5h1M556.5 671v2M557.5 673v2M558.5 675v2M559.5 677v2M560.5 679v2M561.5 681v2M562.5 683v2M563.5 685v2M564 686.5h4M568 685.5h4M572 686.5h1M573 687.5h1M574 688.5h1M575.5 689v2M576 691.5h1M577 692.5h1M578 693.5h1M579 694.5h1M580.5 692v2M581.5 690v2M582 689.5h1M583.5 687v2M584 686.5h1M585.5 684v2M586.5 682v2M587 681.5h1M588.5 679v2M589.5 677v2M590.5 675v2M591.5 673v2M592.5 671v2M593.5 669v2M594.5 667v2M595.5 664v3M596.5 659v5M597.5 654v5M598.5 649v5M599.5 643v6M600.5 638v5M601.5 633v5M602.5 628v5M603.5 623v5M604.5 619v4M605.5 615v4M606.5 611v4M607.5 607v4M608.5 603v4M609.5 599v4M610.5 595v4M611.5 591v4M612.5 589v2M613.5 587v2M614.5 585v2M615.5 583v2M616.5 581v2M617.5 579v2M618.5 577v2M619 576.5h1" fill="none" stroke="#20b2aa" stroke-width="1"/>
<path d="M4.5 629v3M6.5 623v3M8.5 617v3M10.5 611v3M12 607.5h1M13.5 605v2M16.5 600v2M17 599.5h1M19 595.5h1M20 594.5h1M21 593.5h1M24 589.5h1M25 588.5h1M26 587.5h1M29 583.5h1M30 582.5h1M31 581.5h1M34.5 576v2M35 575.5h1M37 571.5h1M38.5 569v2M41.5 564v2M42 563.5h1M44 559.5h1M45 558.5h1M46 557.5h1M49 553.5h1M50.5 551v2M54 548.5h2M56 547.5h1M60 545.5h1M61 546.5h2M66 548.5h2M68 549.5h1M72 553.5h1M73 554.5h1M74 555.5h1M78 558.5h1M79 559.5h1M80 560.5h1M84 563.5h1M85 564.5h2M90 567.5h1M91 568.5h2M96 569.5h3M101.5 572v2M102 574.5h1M104.5 578v2M105 580.5h1M107.5 584v3M109.5 590v2M110 592.5h1M111.5 596v2M112 598.5h1M113 602.5h1M114.5 603v2M115.5 608v2M116 610.5h1M117.5 614v3M118.5 620v2M119 622.5h1M120.5 626v3M121.5 632v2M122 634.5h1M123.5 638v3M125 644.5h1M126.5 645v2M128 650.5h1M129.5 651v2M131 656.5h1M132 657.5h1M133 658.5h1M137 662.5h1M138 663.5h1M139 664.5h1M143 663.5h1M144 662.5h2M149 660.5h2M151 659.5h1M155 657.5h3M161 656.5h3M167 656.5h3M173 658.5h2M175 659.5h1M179 662.5h3M185 661.5h3M191 662.5h3M197 663.5h3M203 664.5h1M204 665.5h1M205 666.5h1M208 670.5h1M209 671.5h1M210 672.5h1M214 676.5h1M215 677.5h2M220 680.5h3M226 680.5h2M228 679.5h1M230 675.5h1M231.5 673v2M234.5 668v2M235 667.5h1M236 663.5h1M237.5 661v2M238 657.5h1M239.5 655v2M240.5 650v2M241 649.5h1M242.5 644v2M243 643.5h1M244 639.5h1M245.5 637v2M247.5 631v3M249.5 626v2M250 625.5h1M252 622.5h2M254 621.5h1M258 620.5h2M259 621.5h1M261 625.5h1M262.5 626v2M264.5 631v3M266 637.5h1M267.5 638v2M269.5 643v2M270 645.5h1M272.5 649v2M273 651.5h1M275.5 655v2M276 657.5h1M280 660.5h1M281 661.5h1M282 662.5h1M286 665.5h2M288 666.5h1M292 668.5h1M293 669.5h1M294 670.5h1M297 674.5h1M298 675.5h1M299 676.5h1M301 680.5h1M302 681.5h1M303 682.5h1M305 686.5h1M306.5 687v2M310 691.5h2M312 692.5h1M316 692.5h2M318 691.5h1M322 689.5h1M323 688.5h1M324 687.5h1M328 684.5h2M330 683.5h1M334 682.5h2M336 681.5h1M340 681.5h1M341 682.5h2M346 684.5h3M352 684.5h3M358 681.5h2M360 680.5h1M363 676.5h1M364.5 674v2M366.5 669v2M367 668.5h1M368 664.5h1M369.5 662v2M371.5 656v3M372 652.5h1M373.5 650v2M374.5 644v3M375 640.5h1M376.5 638v2M377.5 632v3M378 628.5h1M379.5 626v2M380.5 620v3M381 616.5h1M382.5 614v2M383.5 608v3M384 604.5h1M385.5 602v2M386.5 596v3M388.5 590v3M390.5 584v3M391 580.5h1M392.5 578v2M393 574.5h1M394.5 572v2M396 568.5h1M397 567.5h1M398 566.5h1M401 562.5h1M402 561.5h1M403 560.5h1M407 557.5h1M408 556.5h1M409 555.5h1M413 553.5h2M415 554.5h1M419 554.5h1M420 555.5h2M425 558.5h2M427 559.5h1M430.5 563v2M431 565.5h1M434.5 569v2M435 571.5h1M438.5 575v2M439 577.5h1M442.5 581v2M443 583.5h1M447 587.5h2M449 588.5h1M453 590.5h3M459 590.5h1M460 589.5h1M461 588.5h1M464 584.5h1M465.5 582v2M469 578.5h1M470 577.5h1M471 576.5h1M474 572.5h1M475 571.5h2M480 571.5h3M485.5 574v2M486 576.5h1M489.5 580v2M490 582.5h1M492.5 586v2M493 588.5h1M495.5 592v3M497 598.5h1M498.5 599v2M500.5 604v2M501 606.5h1M503.5 610v2M504 612.5h1M506.5 616v2M507 618.5h1M509.5 622v2M510 624.5h1M513.5 628v2M514 630.5h1M517 634.5h1M518 635.5h1M519 636.5h1M522 640.5h1M523 641.5h1M524 642.5h1M528 644.5h1M529 645.5h2M534 646.5h1M535 647.5h2M540 648.5h1M541 649.5h2M546 652.5h1M547 653.5h1M548 654.5h1M552 658.5h1M553 659.5h1M554 660.5h1M557.5 664v2M558 666.5h1M561.5 670v2M562 672.5h1M565 676.5h2M567 677.5h1M571 680.5h1M572 681.5h1M573 682.5h1M577 686.5h1M578 687.5h1M579 688.5h1M583 688.5h1M584 687.5h2M589 685.5h1M590 684.5h2M595.5 679v2M596 678.5h1M597.5 673v2M598 672.5h1M599 668.5h1M600.5 666v2M601 662.5h1M602.5 660v2M603 656.5h1M604.5 654v2M605.5 648v3M606 644.5h1M607.5 642v2M608.5 637v2M609 636.5h1M610.5 630v3M611 626.5h1M612.5 624v2M613.5 618v3M614 614.5h1M615.5 612v2M616.5 607v2M617 606.5h1M618.5 600v3" fill="none" stroke="#ff0000" stroke-width="1"/>
</g>
<g id="frames">
<rect x="0" y="0" width="2" height="731" fill="#fff"/>
<rect x="2" y="2" width="705" height="1" fill="#000"/>
<rect x="2" y="355" width="705" height="1" fill="#000"/>
<rect x="2" y="2" width="1" height="354" fill="#000"/>
<rect x="706" y="2" width="1" height="354" fill="#000"/>
<rect x="2" y="357" width="705" height="1" fill="#000"/>
<rect x="2" y="533" width="705" height="1" fill="#000"/>
<rect x="2" y="357" width="1" height="177" fill="#000"/>
<rect x="706" y="357" width="1" height="177" fill="#000"/>
<rect x="2" y="535" width="705" height="1" fill="#000"/>
<rect x="2" y="710" width="705" height="1" fill="#000"/>
<rect x="2" y="535" width="1" height="176" fill="#000"/>
<rect x="706" y="535" width="1" height="176" fill="#000"/>
<rect x="707" y="22" width="2" height="1" fill="#000"/>
<rect x="707" y="55" width="2" height="1" fill="#000"/>
<rect x="707" y="88" width="2" height="1" fill="#000"/>
<rect x="707" y="121" width="2" height="1" fill="#000"/>
<rect x="707" y="154" width="2" height="1" fill="#000"/>
<rect x="707" y="187" width="2" height="1" fill="#000"/>
<rect x="707" y="220" width="2" height="1" fill="#000"/>
<rect x="707" y="253" width="2" height="1" fill="#000"/>
<rect x="707" y="286" width="2" height="1" fill="#000"/>
<rect x="707" y="319" width="2" height="1" fill="#000"/>
<rect x="707" y="352" width="2" height="1" fill="#000"/>
<rect x="707" y="359" width="1" height="1" fill="#000"/>
<rect x="707" y="415" width="1" height="1" fill="#000"/>
<rect x="707" y="532" width="1" height="1" fill="#000"/>
<rect x="707" y="537" width="1" height="1" fill="#000"/>
<rect x="707" y="571" width="1" height="1" fill="#000"/>
<rect x="707" y="675" width="1" height="1" fill="#000"/>
<rect x="707" y="709" width="1" height="1" fill="#000"/>
<rect x="706" y="147" width="2" height="1" fill="#c0c0c0"/>
<rect x="706" y="34" width="2" height="3" fill="#008000"/>
<rect x="2" y="34" width="1" height="3" fill="#008000"/>
<rect x="706" y="318" width="2" height="3" fill="#008000"/>
<rect x="2" y="318" width="1" height="3" fill="#008000"/>
<rect x="3" y="711" width="1" height="3" fill="#000"/>
<rect x="67" y="711" width="1" height="3" fill="#000"/>
<rect x="131" y="711" width="1" height="3" fill="#000"/>
<rect x="195" y="711" width="1" height="3" fill="#000"/>
<rect x="259" y="711" width="1" height="3" fill="#000"/>
<rect x="323" y="711" width="1" height="3" fill="#000"/>
<rect x="387" y="711" width="1" height="3" fill="#000"/>
<rect x="451" y="711" width="1" height="3" fill="#000"/>
<rect x="515" y="711" width="1" height="3" fill="#000"/>
<rect x="579" y="711" width="1" height="3" fill="#000"/>
</g>
<g id="labels" shape-rendering="auto" text-rendering="geometricPrecision">
<clipPath id="cm"><rect x="707" y="0" width="42" height="356"/></clipPath>
<g clip-path="url(#cm)">
<text transform="translate(712.80,26) scale(0.8852,1)" font-size="10.0" fill="#000" stroke="#000" stroke-width="0.25">1.09905</text>
<text transform="translate(712.80,59) scale(0.8852,1)" font-size="10.0" fill="#000" stroke="#000" stroke-width="0.25">1.09620</text>
<text transform="translate(712.80,92) scale(0.8852,1)" font-size="10.0" fill="#000" stroke="#000" stroke-width="0.25">1.09335</text>
<text transform="translate(712.80,125) scale(0.8852,1)" font-size="10.0" fill="#000" stroke="#000" stroke-width="0.25">1.09045</text>
<text transform="translate(712.80,191) scale(0.8852,1)" font-size="10.0" fill="#000" stroke="#000" stroke-width="0.25">1.08475</text>
<text transform="translate(712.80,257) scale(0.8852,1)" font-size="10.0" fill="#000" stroke="#000" stroke-width="0.25">1.07900</text>
<text transform="translate(712.80,290) scale(0.8852,1)" font-size="10.0" fill="#000" stroke="#000" stroke-width="0.25">1.07615</text>
<text transform="translate(712.80,356) scale(0.8852,1)" font-size="10.0" fill="#000" stroke="#000" stroke-width="0.25">1.07040</text>
</g>
<rect x="708" y="142" width="41" height="11" fill="#000"/>
<text transform="translate(712.80,151) scale(0.8852,1)" font-size="10.0" fill="#fff" stroke="#fff" stroke-width="0.1">1.08820</text>
<rect x="708" y="14" width="41" height="11" fill="#90ee90"/>
<text transform="translate(712.80,23) scale(0.8852,1)" font-size="10.0" fill="#fff" stroke="#fff" stroke-width="0.1">1.09925</text>
<rect x="708" y="80" width="41" height="11" fill="#90ee90"/>
<text transform="translate(712.80,89) scale(0.8852,1)" font-size="10.0" fill="#fff" stroke="#fff" stroke-width="0.1">1.09350</text>
<rect x="708" y="121" width="41" height="11" fill="#90ee90"/>
<text transform="translate(712.80,130) scale(0.8852,1)" font-size="10.0" fill="#fff" stroke="#fff" stroke-width="0.1">1.09000</text>
<rect x="708" y="149" width="41" height="11" fill="#90ee90"/>
<text transform="translate(712.80,158) scale(0.8852,1)" font-size="10.0" fill="#fff" stroke="#fff" stroke-width="0.1">1.08750</text>
<rect x="708" y="190" width="41" height="11" fill="#90ee90"/>
<text transform="translate(712.80,199) scale(0.8852,1)" font-size="10.0" fill="#fff" stroke="#fff" stroke-width="0.1">1.08400</text>
<rect x="708" y="213" width="41" height="11" fill="#90ee90"/>
<text transform="translate(712.80,222) scale(0.8852,1)" font-size="10.0" fill="#fff" stroke="#fff" stroke-width="0.1">1.08200</text>
<rect x="708" y="236" width="41" height="11" fill="#90ee90"/>
<text transform="translate(712.80,245) scale(0.8852,1)" font-size="10.0" fill="#fff" stroke="#fff" stroke-width="0.1">1.08000</text>
<rect x="708" y="259" width="41" height="11" fill="#90ee90"/>
<text transform="translate(712.80,268) scale(0.8852,1)" font-size="10.0" fill="#fff" stroke="#fff" stroke-width="0.1">1.07800</text>
<rect x="708" y="339" width="41" height="11" fill="#90ee90"/>
<text transform="translate(712.80,348) scale(0.8852,1)" font-size="10.0" fill="#fff" stroke="#fff" stroke-width="0.1">1.07100</text>
<rect x="708" y="29" width="41" height="11" fill="#008000"/>
<text transform="translate(712.80,38) scale(0.8852,1)" font-size="10.0" fill="#fff" stroke="#fff" stroke-width="0.1">1.09800</text>
<rect x="708" y="313" width="41" height="11" fill="#008000"/>
<text transform="translate(712.80,322) scale(0.8852,1)" font-size="10.0" fill="#fff" stroke="#fff" stroke-width="0.1">1.07325</text>
<text transform="translate(710.20,368) scale(0.8921,1)" font-size="10.0" fill="#000" stroke="#000" stroke-width="0.25">0.002452</text>
<text transform="translate(710.20,419) scale(0.9049,1)" font-size="10.0" fill="#000" stroke="#000" stroke-width="0.25">0.00</text>
<text transform="translate(710.20,530) scale(0.9168,1)" font-size="10.0" fill="#000" stroke="#000" stroke-width="0.25">-0.005105</text>
<text transform="translate(710.50,546) scale(0.8683,1)" font-size="10.0" fill="#000" stroke="#000" stroke-width="0.25">100</text>
<text transform="translate(709.20,575) scale(0.8829,1)" font-size="10.0" fill="#000" stroke="#000" stroke-width="0.25">80</text>
<text transform="translate(709.20,679) scale(0.8829,1)" font-size="10.0" fill="#000" stroke="#000" stroke-width="0.25">20</text>
<text transform="translate(710.20,707) scale(0.8288,1)" font-size="10.0" fill="#000" stroke="#000" stroke-width="0.25">0</text>
<text transform="translate(2.20,723) scale(0.9150,1)" font-size="10.0" fill="#000" stroke="#000" stroke-width="0.25">24 Dec 2015</text>
<text transform="translate(66.20,723) scale(0.9150,1)" font-size="10.0" fill="#000" stroke="#000" stroke-width="0.25">28 Dec 16:00</text>
<text transform="translate(130.20,723) scale(0.9150,1)" font-size="10.0" fill="#000" stroke="#000" stroke-width="0.25">30 Dec 00:00</text>
<text transform="translate(194.20,723) scale(0.9150,1)" font-size="10.0" fill="#000" stroke="#000" stroke-width="0.25">31 Dec 08:00</text>
<text transform="translate(258.20,723) scale(0.9150,1)" font-size="10.0" fill="#000" stroke="#000" stroke-width="0.25">4 Jan 16:00</text>
<text transform="translate(322.20,723) scale(0.9150,1)" font-size="10.0" fill="#000" stroke="#000" stroke-width="0.25">6 Jan 00:00</text>
<text transform="translate(386.20,723) scale(0.9150,1)" font-size="10.0" fill="#000" stroke="#000" stroke-width="0.25">7 Jan 08:00</text>
<text transform="translate(450.20,723) scale(0.9150,1)" font-size="10.0" fill="#000" stroke="#000" stroke-width="0.25">8 Jan 16:00</text>
<text transform="translate(514.20,723) scale(0.9150,1)" font-size="10.0" fill="#000" stroke="#000" stroke-width="0.25">12 Jan 00:00</text>
<text transform="translate(578.20,723) scale(0.9150,1)" font-size="10.0" fill="#000" stroke="#000" stroke-width="0.25">13 Jan 08:00</text>
</g>
</svg>
</body>
</html>
